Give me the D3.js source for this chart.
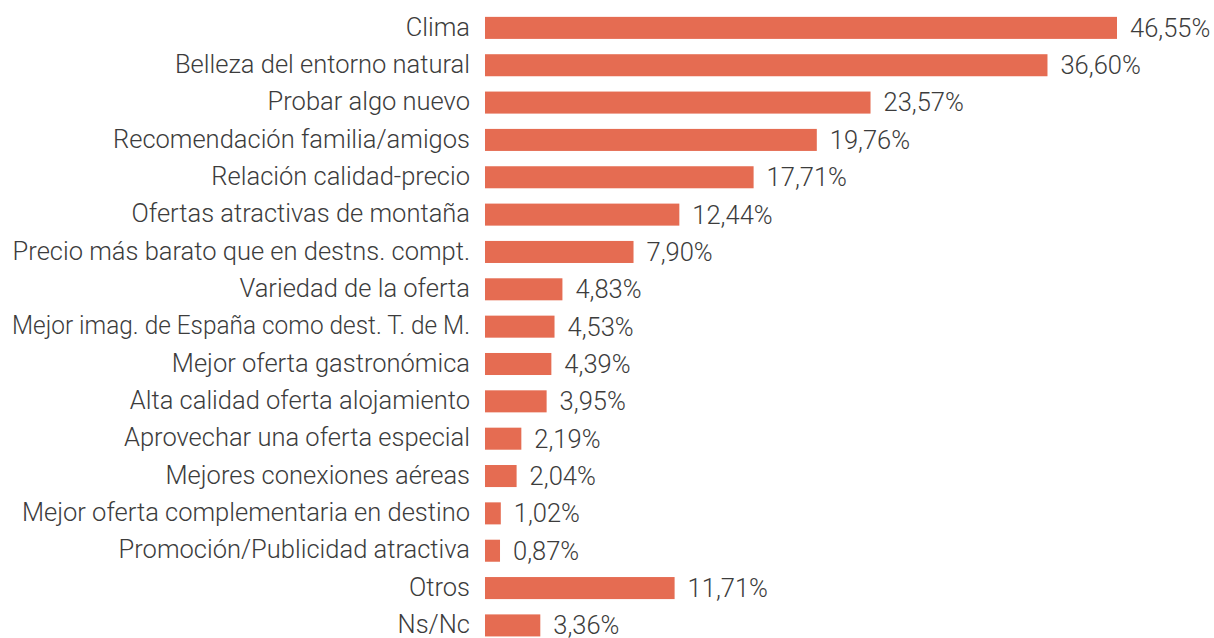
<!DOCTYPE html>
<html>
<head>
<meta charset="utf-8">
<script src="https://cdn.jsdelivr.net/npm/d3@7"></script>
<style>
  html, body { margin: 0; padding: 0; background: #ffffff; }
  svg { display: block; }
  text { font-family: Roboto, "Open Sans", sans-serif; font-weight: 300; fill: #3c3c3c; }
</style>
</head>
<body>
<svg id="chart" width="1214" height="638"></svg>
<script>
// Categories (top to bottom)
const categories = [
  "Clima",
  "Belleza del entorno natural",
  "Probar algo nuevo",
  "Recomendación familia/amigos",
  "Relación calidad-precio",
  "Ofertas atractivas de montaña",
  "Precio más barato que en destns. compt.",
  "Variedad de la oferta",
  "Mejor imag. de España como dest. T. de M.",
  "Mejor oferta gastronómica",
  "Alta calidad oferta alojamiento",
  "Aprovechar una oferta especial",
  "Mejores conexiones aéreas",
  "Mejor oferta complementaria en destino",
  "Promoción/Publicidad atractiva",
  "Otros",
  "Ns/Nc"
];
// Printed value labels
const valueLabels = [
  "46,55%", "36,60%", "23,57%", "19,76%", "17,71%", "12,44%", "7,90%", "4,83%",
  "4,53%", "4,39%", "3,95%", "2,19%", "2,04%", "1,02%", "0,87%", "11,71%", "3,36%"
];
// Bar lengths as drawn in the picture (axis capped at 40%)
const barValues = [
  40.0, 35.6, 24.4, 21.0, 17.0, 12.3, 9.4, 4.9,
  4.4, 4.2, 3.9, 2.3, 2.0, 1.0, 0.95, 12.0, 3.5
];
const axisMax = 40;

const svg = d3.select("#chart");
const margin = { left: 485, right: 97, top: 17, bottom: 1 };
const W = 1214, H = 638;

const x = d3.scaleLinear().domain([0, axisMax]).range([margin.left, W - margin.right]);
const y = d3.scaleBand().domain(categories).range([margin.top - 7.6, H - margin.bottom + 6.9]).paddingInner(0.41).paddingOuter(0.2);

const data = categories.map((c, i) => ({ c, v: barValues[i], lab: valueLabels[i] }));

svg.selectAll("rect.bar").data(data).enter().append("rect")
  .attr("class", "bar")
  .attr("x", x(0))
  .attr("y", d => y(d.c))
  .attr("width", d => x(Math.min(d.v, axisMax)) - x(0))
  .attr("height", y.bandwidth())
  .attr("fill", "#e56c52");

const labelRight = x(0) - 15;
const maxLabelWidth = labelRight - 12;
svg.selectAll("text.cat").data(data).enter().append("text")
  .attr("class", "cat")
  .attr("x", labelRight)
  .attr("y", d => y(d.c) + y.bandwidth() / 2)
  .attr("dy", "0.3em")
  .attr("text-anchor", "end")
  .style("font-size", "25.5px")
  .text(d => d.c)
  .each(function () {
    const w = this.getComputedTextLength();
    if (w > maxLabelWidth) {
      d3.select(this).attr("textLength", maxLabelWidth).attr("lengthAdjust", "spacingAndGlyphs");
    }
  });

svg.selectAll("text.val").data(data).enter().append("text")
  .attr("class", "val")
  .attr("x", d => x(Math.min(d.v, axisMax)) + 13)
  .attr("y", d => y(d.c) + y.bandwidth() / 2 + 0.5)
  .attr("dy", "0.33em")
  .attr("text-anchor", "start")
  .style("font-size", "25.5px")
  .text(d => d.lab);
</script>
</body>
</html>
